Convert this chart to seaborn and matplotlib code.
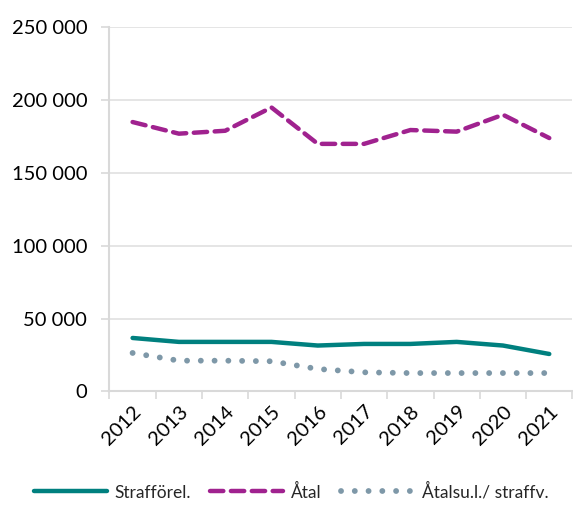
import matplotlib
matplotlib.use("Agg")
import matplotlib.pyplot as plt
import seaborn as sns
import pandas as pd
import numpy as np
from matplotlib.ticker import FuncFormatter, FixedLocator
from matplotlib.lines import Line2D

years = ["2012", "2013", "2014", "2015", "2016", "2017", "2018", "2019", "2020", "2021"]
strafforel = [36700, 34000, 34000, 34000, 31500, 32600, 32600, 34000, 31500, 25700]
atal = [185000, 177000, 179000, 195000, 170000, 170000, 179500, 178400, 190000, 174000]
atalsu = [26400, 21100, 21100, 20700, 15400, 13100, 12600, 12600, 12600, 12600]
series_names = ["Strafförel.", "Åtal", "Åtalsu.l./ straffv."]

sns.set_theme(style="white")
plt.rcParams["font.family"] = ["Lato", "DejaVu Sans"]

df = pd.DataFrame({
    "x": list(range(len(years))) * 3,
    "value": strafforel + atal + atalsu,
    "serie": [series_names[0]] * len(years) + [series_names[1]] * len(years) + [series_names[2]] * len(years),
})

fig = plt.figure(figsize=(5.73, 5.07), dpi=100)
ax = fig.add_axes([0.191, 0.228, 0.808, 0.718])

palette = {series_names[0]: "#00807F", series_names[1]: "#A0228F", series_names[2]: "#7E98A8"}
dashes = {series_names[0]: "", series_names[1]: (3.0, 1.7), series_names[2]: (0.01, 2.35)}
widths = {series_names[0]: 3.2, series_names[1]: 3.2, series_names[2]: 4.2}
sns.lineplot(data=df, x="x", y="value", hue="serie", style="serie", palette=palette,
             dashes=dashes, linewidth=3.2, ax=ax, legend=False)
for line, name in zip(ax.lines, series_names):
    line.set_linewidth(widths[name])
    if dashes[name] != "":
        line.set_dashes(dashes[name])
    line.set_solid_capstyle("round")
    line.set_dash_capstyle("round")

ax.set_ylim(0, 250000)
ax.set_xlim(-0.5, len(years) - 0.5)
ax.set_yticks(np.arange(0, 250001, 50000))
ax.yaxis.set_major_formatter(FuncFormatter(lambda v, p: f"{int(v):,}".replace(",", " ")))
ax.set_xticks(range(len(years)))
ax.set_xticklabels(years, rotation=45, ha="right", rotation_mode="anchor")
ax.xaxis.set_minor_locator(FixedLocator(np.arange(-0.5, len(years), 1.0)))
ax.tick_params(axis="x", which="major", length=0, pad=8, labelsize=14.5, colors="black")
ax.tick_params(axis="x", which="minor", length=6, width=1.2, color="#d9d9d9", direction="out", bottom=True)
ax.tick_params(axis="y", which="major", length=6, width=1.2, color="#d9d9d9", direction="out", left=True, labelsize=14.5, colors="black", pad=10)
for lbl in ax.get_yticklabels() + ax.get_xticklabels():
    lbl.set_color("black")

ax.grid(axis="y", color="#e0e0e0", linewidth=1.2)
ax.set_axisbelow(True)
for s in ["top", "right"]:
    ax.spines[s].set_visible(False)
ax.spines["left"].set_color("#d9d9d9")
ax.spines["bottom"].set_color("#d9d9d9")
ax.spines["left"].set_linewidth(1.5)
ax.spines["bottom"].set_linewidth(1.5)
ax.set_xlabel("")
ax.set_ylabel("")

legend_handles = []
for name in series_names:
    ls = "-" if dashes[name] == "" else (0, dashes[name])
    legend_handles.append(Line2D([0], [0], color=palette[name], linewidth=widths[name], linestyle=ls,
                                 dash_capstyle="round", solid_capstyle="round"))
fig.legend(legend_handles, series_names, loc="center", bbox_to_anchor=(0.508, 0.03), ncol=3,
           frameon=False, fontsize=12.5, handlelength=4.2, columnspacing=1.1, handletextpad=0.45)

fig.savefig("out.png", dpi=100)
